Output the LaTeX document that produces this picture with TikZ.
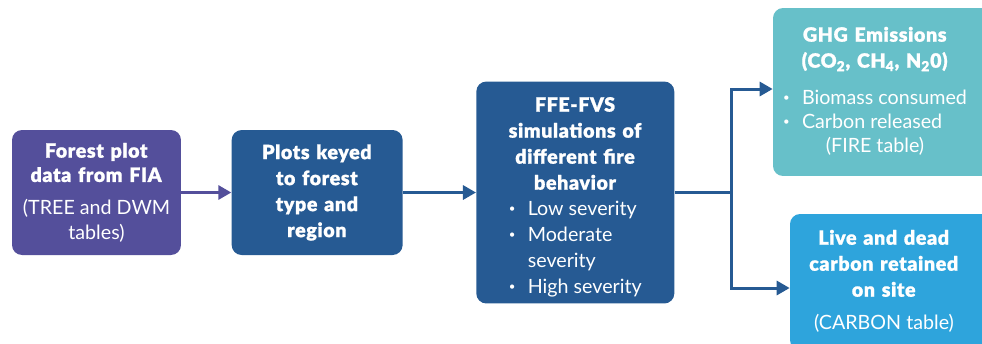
\documentclass[tikz,border=0pt]{standalone}
\usepackage{fontspec}
\setmainfont{Lato}[BoldFont={Lato Black}, BoldFeatures={FakeBold=1, LetterSpace=3, WordSpace=1.3}]
\usetikzlibrary{arrows.meta}
\usetikzlibrary{positioning}

\definecolor{fiapurple}{HTML}{544F9B}
\definecolor{fvsblue}{HTML}{265A93}
\definecolor{ghgteal}{HTML}{67C0C9}
\definecolor{carbonblue}{HTML}{2EA4DC}

\tikzset{
  stepbox/.style={rounded corners=0.2cm, inner sep=0pt, text=white, align=center,
    font=\fontsize{11.2}{14.8}\selectfont},
  link/.style={line width=0.06cm, draw=fvsblue, -{Triangle[length=0.26cm,width=0.28cm]}},
}

\newcommand{\bul}{\raisebox{0.3ex}{\fontsize{6.5}{6.5}\selectfont\textbullet}}

\begin{document}
\begin{tikzpicture}[x=0.02cm, y=-0.02cm]
    \useasboundingbox (0,0) rectangle (982,343);

    \node (fia) [stepbox, fill=fiapurple, minimum width=3.38cm, minimum height=2.5cm] at (96.5,192.5)
        {\textbf{Forest plot}\\[-1pt]\textbf{data from FIA}\\[4pt](TREE and DWM\\[-1pt]tables)};
    \node (plots) [stepbox, fill=fvsblue, minimum width=3.42cm, minimum height=2.5cm, right=1cm of fia]
        {\textbf{Plots keyed}\\\textbf{to forest}\\\textbf{type and}\\\textbf{region}};
    \node (fvs) [stepbox, fill=fvsblue, minimum width=3.96cm, minimum height=4.44cm, right=1.46cm of plots]
        {\rule{0pt}{16pt}\textbf{FFE-FVS}\\\textbf{simulations of}\\\textbf{different fire}\\\textbf{behavior}\\
         \begin{tabular}[t]{@{}l@{\hspace{7pt}}l@{}}
            \bul & Low severity\\
            \bul & Moderate\\
                 & severity\\
            \bul & High severity
         \end{tabular}};

    \node (ghg) [stepbox, fill=ghgteal, minimum width=4.44cm, minimum height=3.36cm] at (884,92)
        {\begin{tabular}{@{}c@{}}
            \textbf{GHG Emissions}\\
            \textbf{(CO\textsubscript{2}, CH\textsubscript{4}, N\textsubscript{2}0)}\\[6pt]
            \begin{tabular}[t]{@{}l@{\hspace{7pt}}l@{}}
                \bul & Biomass consumed\\[-1pt]
                \bul & Carbon released
            \end{tabular}\\[-1pt]
            (FIRE table)
         \end{tabular}\hspace{0.36cm}\null};
    \node (carbon) [stepbox, fill=carbonblue, minimum width=4.1cm, minimum height=2.72cm] at (892.5,282)
        {\begin{tabular}{@{}c@{}}
            \textbf{Live and dead}\\
            \textbf{carbon retained}\\
            \textbf{on site}\\[4pt]
            (CARBON table)
         \end{tabular}\hspace{0.34cm}\null};

    \coordinate (split) at (731,192.5);

    \draw[link, draw=fiapurple] (fia) -- (plots);
    \draw[link] (plots) -- (fvs);
    \draw[line width=0.06cm, draw=fvsblue] (fvs.east |- split) -- (split);
    \draw[link] (split) |- ([yshift=0.06cm]ghg.west);
    \draw[link] (split) |- ([yshift=-0.12cm]carbon.west);
\end{tikzpicture}
\end{document}
